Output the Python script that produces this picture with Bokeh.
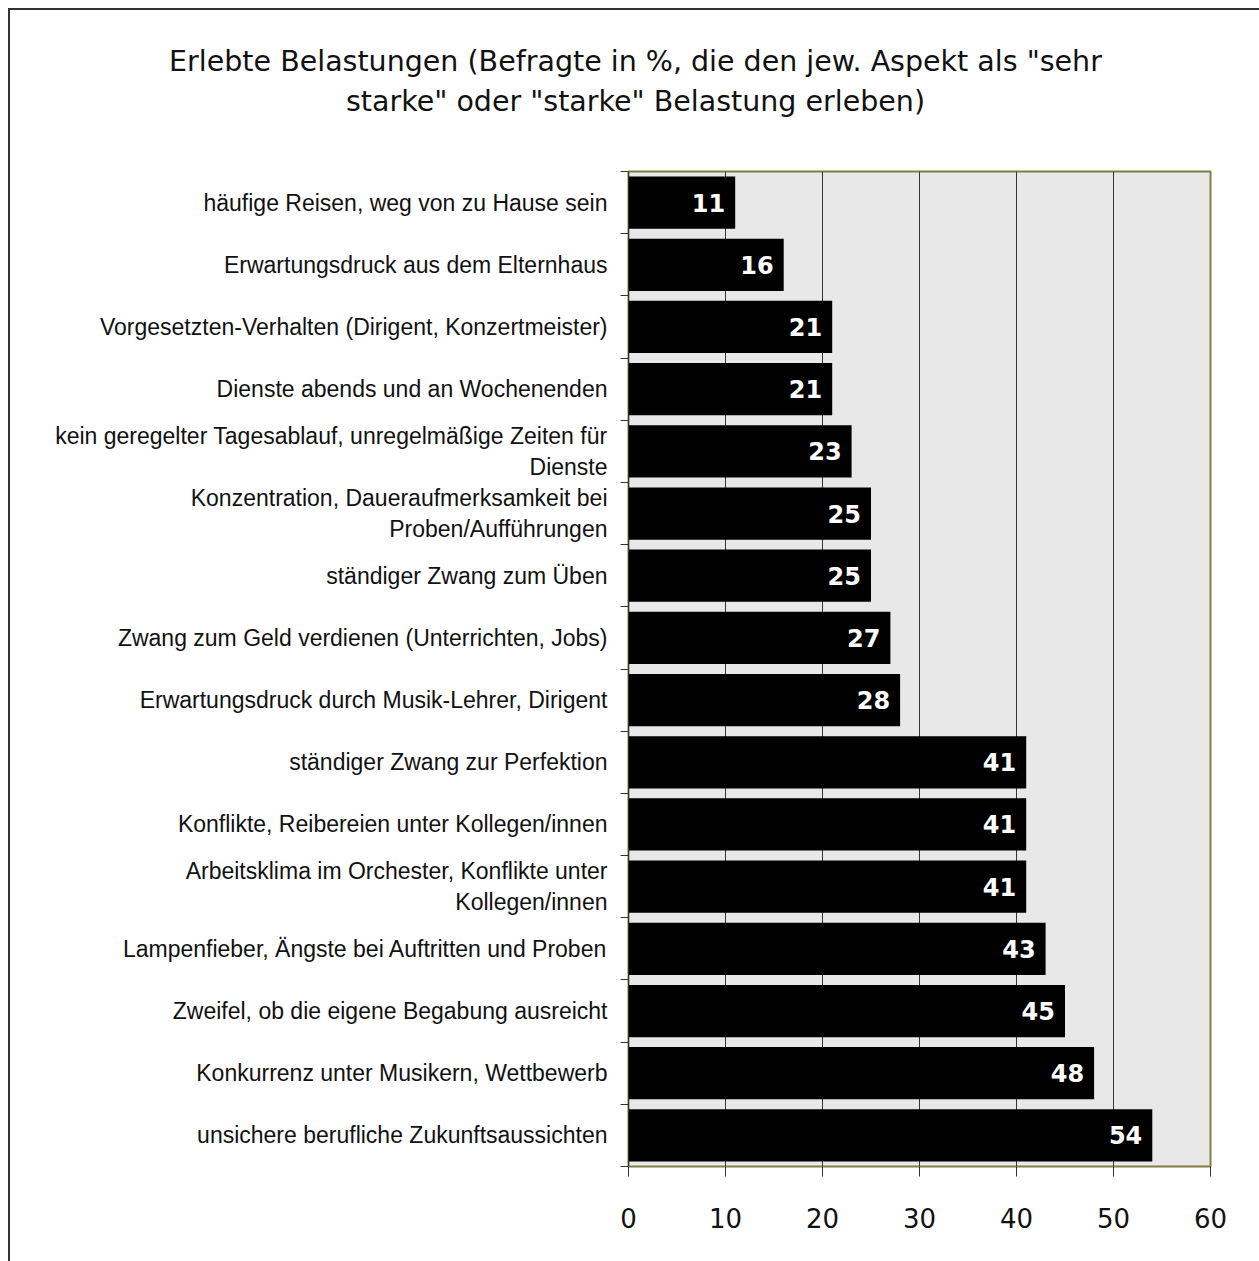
from bokeh.plotting import figure
from bokeh.models import Range1d, FixedTicker, ColumnDataSource, Div
from bokeh.layouts import column
from bokeh.core.properties import value
from bokeh.embed import file_html
from bokeh.resources import INLINE

title_lines = ['Erlebte Belastungen (Befragte in %, die den jew. Aspekt als "sehr',
               'starke" oder "starke" Belastung erleben)']

categories = [
    "häufige Reisen, weg von zu Hause sein",
    "Erwartungsdruck aus dem Elternhaus",
    "Vorgesetzten-Verhalten (Dirigent, Konzertmeister)",
    "Dienste abends und an Wochenenden",
    "kein geregelter Tagesablauf, unregelmäßige Zeiten für\nDienste",
    "Konzentration, Daueraufmerksamkeit bei\nProben/Aufführungen",
    "ständiger Zwang zum Üben",
    "Zwang zum Geld verdienen (Unterrichten, Jobs)",
    "Erwartungsdruck durch Musik-Lehrer, Dirigent",
    "ständiger Zwang zur Perfektion",
    "Konflikte, Reibereien unter Kollegen/innen",
    "Arbeitsklima im Orchester, Konflikte unter\nKollegen/innen",
    "Lampenfieber, Ängste bei Auftritten und Proben",
    "Zweifel, ob die eigene Begabung ausreicht",
    "Konkurrenz unter Musikern, Wettbewerb",
    "unsichere berufliche Zukunftsaussichten",
]
values = [11, 16, 21, 21, 23, 25, 25, 27, 28, 41, 41, 41, 43, 45, 48, 54]
x_ticks = [0, 10, 20, 30, 40, 50, 60]

n = len(categories)
positions = list(range(n))
src = ColumnDataSource(dict(y=positions, v=values, lbl=[str(v) for v in values]))

div = Div(
    text="<div style=\"width:1241px;text-align:center;font-family:'DejaVu Sans';font-size:28.5px;"
         "line-height:40px;padding-top:27px;color:#111;\">"
         + "<br>".join(t.replace('"', '&quot;') for t in title_lines) + "</div>",
    width=1241, height=145,
    styles={"width": "1241px", "text-align": "center"},
)

p = figure(width=1241, height=1096, output_backend="svg", toolbar_location=None,
           x_range=Range1d(0, 60), y_range=Range1d(n - 0.5, -0.5),
           min_border_left=618, min_border_right=41, min_border_top=6, min_border_bottom=95)

p.background_fill_color = "#e8e8e8"
p.border_fill_color = "white"
p.outline_line_color = "#807f40"
p.outline_line_width = 2

p.hbar(y="y", right="v", left=0, height=0.84, source=src, fill_color="black", line_color=None)
p.text(x="v", y="y", text="lbl", source=src, x_offset=-10, text_align="right",
       text_baseline="middle", text_color="white", text_font=value("DejaVu Sans"),
       text_font_style="bold", text_font_size="24px")

# x axis
xa = p.xaxis[0]
xa.ticker = FixedTicker(ticks=x_ticks)
xa.major_tick_out = 10
xa.major_tick_in = 0
xa.minor_tick_out = 0
xa.minor_tick_in = 0
xa.axis_line_color = None
xa.major_tick_line_color = "#333333"
xa.major_label_text_font = "DejaVu Sans"
xa.major_label_text_font_size = "26px"
xa.major_label_text_color = "#111111"
xa.major_label_standoff = 31

# y axis
ya = p.yaxis[0]
ya.ticker = FixedTicker(ticks=positions, minor_ticks=[i - 0.5 for i in range(n + 1)])
ya.major_label_overrides = {i: c for i, c in zip(positions, categories)}
ya.major_tick_out = 0
ya.major_tick_in = 0
ya.minor_tick_out = 8
ya.minor_tick_in = 0
ya.minor_tick_line_color = "#333333"
ya.axis_line_color = "#333333"
ya.major_label_text_font = "Liberation Sans"
ya.major_label_text_font_size = "23px"
ya.major_label_text_color = "#111111"
ya.major_label_standoff = 13

p.xgrid.grid_line_color = "#333333"
p.xgrid.grid_line_width = 1
p.ygrid.grid_line_color = None

layout = column(div, p, spacing=0,
                styles={"border-left": "2px solid #333", "border-top": "2px solid #333",
                        "margin-left": "8px", "margin-top": "8px"})

open("out.html", "w").write(file_html(layout, INLINE))
